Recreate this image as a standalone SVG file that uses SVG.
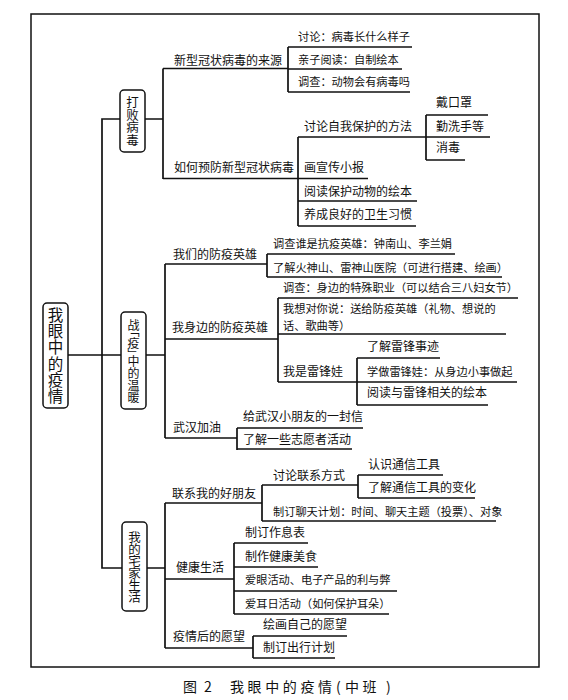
<svg xmlns="http://www.w3.org/2000/svg" width="568" height="700" viewBox="0 0 568 700">
<style>
text{font-family:"Noto Sans CJK SC","Noto Sans",sans-serif;fill:#111}
.t{font-size:12px}
.s{font-size:11.2px}
.v{writing-mode:vertical-rl;text-anchor:middle}
.b{font-size:12.5px}
.r{font-size:15.5px;letter-spacing:0.7px}
.box{fill:#fff;stroke:#111;stroke-width:1.5}
#connectors path{fill:none;stroke:#111;stroke-width:1.7}
.ttl{font-size:14px}
</style>
<rect x="31" y="14" width="508" height="653" fill="#fff" stroke="#111" stroke-width="1.5"/>
<g id="connectors">
<path d="M68,355 H121 M120,119 H102 V568 H122"/>
<path d="M145,119 H163 M163,68.5 V179 M163,68.5 H288 M163,178.5 H298"/>
<path d="M288,47 V92 M288,47 H412 M288,69 H402 M288,92 H410"/>
<path d="M298,137 V226 M298,137 H490 M298,178.5 H368 M298,201 H417 M298,226 H416"/>
<path d="M426,115 V160 M426,115 H488 M426,160 H465"/>
<path d="M146,355 H165 M165,264 V438 M165,264 H267 M165,339 H278 M165,438 H237"/>
<path d="M267,254 V277 M267,254 H455 M267,277 H502"/>
<path d="M278,298 V382 M278,298 H518 M278,334 H506 M278,382 H517"/>
<path d="M357,358 V405 M357,358 H440 M357,405 H488"/>
<path d="M237,428 V450 M237,428 H363 M237,449 H352"/>
<path d="M147,568 H165 M165,503 V648 M165,503 H262 M165,579 H234 M165,648 H253"/>
<path d="M262,485 V521 M262,485 H358 M262,521 H496"/>
<path d="M358,475 V498 M358,475 H443 M358,498 H475"/>
<path d="M234,543 V614 M234,543 H308 M234,567 H318 M234,591 H397 M234,614 H389"/>
<path d="M253,636 V658 M253,636 H347 M253,658 H335"/>
</g>
<g id="root">
<rect class="box" x="43" y="303" width="25" height="105" rx="4"/>
<text class="v r" x="55.5" y="356">我眼中的疫情</text>
</g>
<g id="n-dabai">
<rect class="box" x="120" y="90" width="25" height="62" rx="4"/>
<text class="v b" x="132.5" y="121">打败病毒</text>
</g>
<g id="n-zhanyi">
<rect class="box" x="121" y="312" width="25" height="97" rx="4"/>
<text class="v" x="133.5" y="361" style="font-size:12px;font-feature-settings:'vpal' 1">战「疫」中的温暖</text>
</g>
<g id="n-zhaijia">
<rect class="box" x="122" y="522" width="25" height="89" rx="4"/>
<text class="v b" x="134.5" y="566.5" style="letter-spacing:-0.5px">我的宅家生活</text>
</g>
<g id="n-laiyuan"><text class="t" x="174" y="64.5">新型冠状病毒的来源</text></g>
<g id="n-yufang"><text class="t" x="174" y="172">如何预防新型冠状病毒</text></g>
<g id="n-1a1"><text class="s" x="298" y="41">讨论：病毒长什么样子</text></g>
<g id="n-1a2"><text class="s" x="298" y="64">亲子阅读：自制绘本</text></g>
<g id="n-1a3"><text class="s" x="298" y="86">调查：动物会有病毒吗</text></g>
<g id="n-1b1"><text class="t" x="304" y="130.5">讨论自我保护的方法</text></g>
<g id="n-1b1a"><text class="t" x="436" y="107">戴口罩</text></g>
<g id="n-1b1b"><text class="t" x="436" y="130.5">勤洗手等</text></g>
<g id="n-1b1c"><text class="t" x="436" y="152">消毒</text></g>
<g id="n-1b2"><text class="t" x="304" y="171.5">画宣传小报</text></g>
<g id="n-1b3"><text class="t" x="304" y="195.5">阅读保护动物的绘本</text></g>
<g id="n-1b4"><text class="t" x="304" y="219">养成良好的卫生习惯</text></g>
<g id="n-yingxiong"><text class="t" x="173" y="259">我们的防疫英雄</text></g>
<g id="n-shenbian"><text class="t" x="172" y="332">我身边的防疫英雄</text></g>
<g id="n-wuhan"><text class="t" x="173" y="432">武汉加油</text></g>
<g id="n-2a1"><text class="s" x="273" y="248">调查谁是抗疫英雄：钟南山、李兰娟</text></g>
<g id="n-2a2"><text class="s" x="273" y="271.5">了解火神山、雷神山医院（可进行搭建、绘画）</text></g>
<g id="n-2b1"><text class="s" x="283" y="292">调查：身边的特殊职业（可以结合三八妇女节）</text></g>
<g id="n-2b2"><text class="s" x="283" y="313">我想对你说：送给防疫英雄（礼物、想说的</text><text class="s" x="283" y="329.5">话、歌曲等）</text></g>
<g id="n-2b3"><text class="t" x="283" y="375.5">我是雷锋娃</text></g>
<g id="n-2b3a"><text class="t" x="367" y="350.5">了解雷锋事迹</text></g>
<g id="n-2b3b"><text class="s" x="367" y="375.5">学做雷锋娃：从身边小事做起</text></g>
<g id="n-2b3c"><text class="t" x="367" y="397">阅读与雷锋相关的绘本</text></g>
<g id="n-2c1"><text class="t" x="243" y="420.5">给武汉小朋友的一封信</text></g>
<g id="n-2c2"><text class="t" x="243" y="444">了解一些志愿者活动</text></g>
<g id="n-pengyou"><text class="t" x="172" y="498">联系我的好朋友</text></g>
<g id="n-jiankang"><text class="t" x="176" y="572">健康生活</text></g>
<g id="n-yuanwang"><text class="t" x="173" y="641">疫情后的愿望</text></g>
<g id="n-3a1"><text class="t" x="273" y="479.5">讨论联系方式</text></g>
<g id="n-3a1a"><text class="t" x="368" y="469">认识通信工具</text></g>
<g id="n-3a1b"><text class="t" x="368" y="492">了解通信工具的变化</text></g>
<g id="n-3a2"><text class="s" x="273" y="515.5">制订聊天计划：时间、聊天主题（投票）、对象</text></g>
<g id="n-3b1"><text class="t" x="245" y="537">制订作息表</text></g>
<g id="n-3b2"><text class="t" x="245" y="560.5">制作健康美食</text></g>
<g id="n-3b3"><text class="s" x="245" y="584">爱眼活动、电子产品的利与弊</text></g>
<g id="n-3b4"><text class="s" x="245" y="608">爱耳日活动（如何保护耳朵）</text></g>
<g id="n-3c1"><text class="t" x="263" y="629">绘画自己的愿望</text></g>
<g id="n-3c2"><text class="t" x="263" y="652">制订出行计划</text></g>
<text class="ttl" y="692"><tspan x="183">图</tspan><tspan x="204">2</tspan><tspan x="230" letter-spacing="3.6">我眼中的疫情</tspan><tspan x="336">(</tspan><tspan x="345" letter-spacing="3.5">中班</tspan><tspan x="386">)</tspan></text>
</svg>
